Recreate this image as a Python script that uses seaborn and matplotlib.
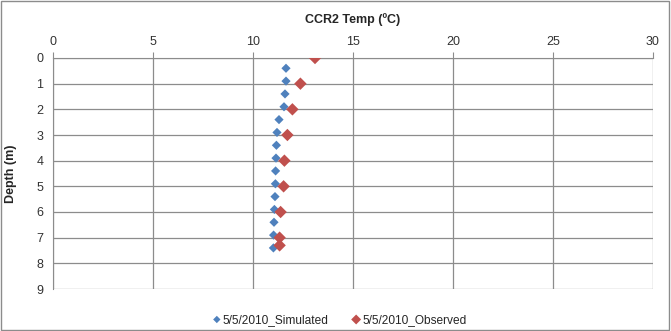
import matplotlib
matplotlib.use("Agg")
import matplotlib.pyplot as plt
import pandas as pd
import seaborn as sns
from matplotlib.patches import Rectangle

sim_depth = [0.4, 0.9, 1.4, 1.9, 2.4, 2.9, 3.4, 3.9, 4.4, 4.9, 5.4, 5.9, 6.4, 6.9, 7.4]
sim_temp = [11.65, 11.65, 11.6, 11.55, 11.3, 11.2, 11.17, 11.15, 11.13, 11.12, 11.1, 11.07, 11.05, 11.03, 11.02]
obs_depth = [0.0, 1.0, 2.0, 3.0, 4.0, 5.0, 6.0, 7.0, 7.3]
obs_temp = [13.1, 12.37, 11.97, 11.72, 11.57, 11.53, 11.38, 11.33, 11.33]

SIM_LABEL = "5/5/2010_Simulated"
OBS_LABEL = "5/5/2010_Observed"
COLOR_SIM = "#4F81BD"
COLOR_OBS = "#C0504D"
GRID = "#8C8C8C"

sns.set_style("white")
plt.rcParams["font.family"] = ["Liberation Sans", "DejaVu Sans"]
plt.rcParams["font.size"] = 9

df_sim = pd.DataFrame({"temp": sim_temp, "depth": sim_depth})
df_obs = pd.DataFrame({"temp": obs_temp, "depth": obs_depth})

fig = plt.figure(figsize=(6.71, 3.31), dpi=100)
ax = fig.add_axes([53 / 671, 1 - 289 / 331, 600 / 671, 231 / 331])

sns.scatterplot(data=df_sim, x="temp", y="depth", marker="D", s=22, color=COLOR_SIM,
                edgecolor="none", label=SIM_LABEL, ax=ax, zorder=3)
sns.scatterplot(data=df_obs, x="temp", y="depth", marker="D", s=40, color=COLOR_OBS,
                edgecolor="none", label=OBS_LABEL, ax=ax, zorder=3)

ax.set_xlim(0, 30)
ax.set_ylim(9, 0)
ax.set_xticks(range(0, 31, 5))
ax.set_yticks(range(0, 10))
ax.xaxis.tick_top()
ax.grid(True, color=GRID, linewidth=0.9)
ax.set_axisbelow(True)
for side in ["right", "bottom"]:
    ax.spines[side].set_visible(False)
for side in ["left", "top"]:
    ax.spines[side].set_color(GRID)
ax.tick_params(axis="both", length=4, color=GRID, labelsize=9, labelcolor="#333333", pad=3)
ax.set_xlabel("")
ax.set_ylabel("Depth (m)", fontweight="bold", fontsize=9, labelpad=14)

fig.text(353 / 671, 1 - 20 / 331, "CCR2 Temp (ºC)", ha="center", va="center",
         fontweight="bold", fontsize=9)

ax.legend(loc="upper center", bbox_to_anchor=(0.478, -0.06), ncol=2, frameon=False,
          handlelength=0.6, handletextpad=0.2, columnspacing=2.0, fontsize=8.6,
          markerscale=0.8)

fig.patches.append(Rectangle((0.002, 0.003), 0.995, 0.993, transform=fig.transFigure,
                             fill=False, edgecolor="#8C8C8C", linewidth=1))

fig.savefig("out.png", dpi=100)
